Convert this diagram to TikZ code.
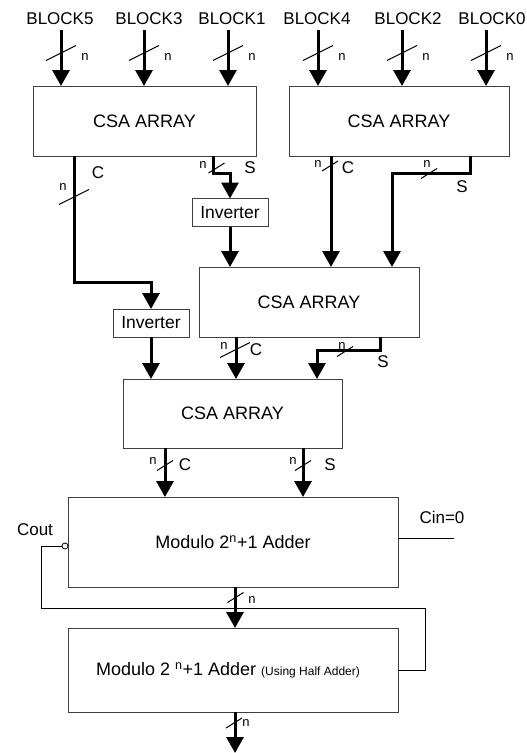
\documentclass[tikz,border=0pt]{standalone}
\usepackage{fontspec}
\setmainfont{Liberation Sans}
\usetikzlibrary{arrows.meta, positioning}

\begin{document}
\begin{tikzpicture}[
        % Styles
        x=1pt, y=-1pt, % pixel-like grid, y pointing down
        every node/.style = {font=\fontsize{17}{20}\selectfont, inner sep=0pt, outer sep=0pt},
        % CSA blocks
        block/.style = {
            rectangle,
            draw=black!75,
            line width=1pt,
            minimum width=220pt,
            minimum height=70pt,
            align=center,
            font=\fontsize{18}{21}\selectfont
        },
        % Inverter boxes
        invbox/.style = {
            rectangle,
            draw=black!75,
            line width=1pt,
            minimum width=76pt,
            minimum height=28pt,
            font=\fontsize{17.5}{20}\selectfont
        },
        % Modulo adders
        adder/.style = {block, minimum width=330pt},
        inlabel/.style = {outer sep=5pt},
        buslabel/.style = {font=\fontsize{13}{15}\selectfont},
        % Buses and thin wires
        bus/.style = {
            -{Triangle[width=17pt, length=16pt]},
            line width=3pt,
            draw=black
        },
        wire/.style = {line width=1pt, draw=black},
        bigmark/.pic = {\draw[wire] (-15,8) -- (15,-7);},
        busmark/.pic = {\draw[wire] (-8,5) -- (8,-5);}
    ]
        \useasboundingbox (0,0) rectangle (527,753);

        % 1. Blocks
        \node (csa1) [block, minimum width=223pt] at (144.5,121) {CSA ARRAY};
        \node (csa2) [block] at (399,121) {CSA ARRAY};
        \node (inv1) [invbox] at (230,212.5) {Inverter};
        \node (csa3) [block] at (309,302) {CSA ARRAY};
        \node (inv2) [invbox] at (151,323) {Inverter};
        \node (csa4) [block, minimum width=219pt, minimum height=69pt] at (232.5,413.5) {CSA ARRAY};
        \node (mod1) [adder, minimum height=90pt] at (233,542) {Modulo 2\textsuperscript{n}+1 Adder};
        \node (mod2) [adder, minimum height=84pt] at (233,670)
            {Modulo 2 \textsuperscript{n}+1 Adder {\fontsize{12}{14}\selectfont(Using Half Adder)}\hspace*{10pt}};

        % 2. Inputs
        \node (b5) [inlabel] at (60,19) {BLOCK5};
        \node (b3) [inlabel] at (149,19) {BLOCK3};
        \node (b1) [inlabel] at (232,19) {BLOCK1};
        \node (b4) [inlabel] at (317,19) {BLOCK4};
        \node (b2) [inlabel] at (408,19) {BLOCK2};
        \node (b0) [inlabel] at (492,19) {BLOCK0};
        \foreach \src/\ax/\dst in {b5/61/csa1, b3/144/csa1, b1/228/csa1,
                                   b4/318/csa2, b2/402/csa2, b0/486/csa2} {
            \draw [bus] (\src.south -| \ax,0) -- (\dst.north -| \ax,0);
            \pic at (\ax,52.5) {bigmark};
            \node [buslabel] at (\ax+24,57) {n};
        }

        % 3. First level outputs
        \draw [bus] (csa1.south -| 74,0) |- (151,282) -- (inv2.north);
        \pic at (74,196.5) {bigmark};
        \node [buslabel] at (63,187) {n};
        \node (c1) at (98,173) {C};

        \draw [bus] (csa1.south -| 213,0) |- (230,173) -- (inv1.north);
        \pic at (216.5,168) {busmark};
        \node [buslabel] at (203,165) {n};
        \node (s1) at (250,168) {S};

        \draw [bus] (csa2.south -| 331,0) -- (csa3.north -| 331,0);
        \pic at (330,166) {busmark};
        \node [buslabel] at (318,164) {n};
        \node (c2) at (348,168) {C};

        \draw [bus] (csa2.south -| 470,0) |- (392,173) -- (csa3.north -| 392,0);
        \pic at (429,173.5) {busmark};
        \node [buslabel] at (427,164) {n};
        \node (s2) at (462,187) {S};

        \draw [bus] (inv1.south) -- (inv1.south |- csa3.north);

        % 4. Second level outputs
        \draw [bus] (csa3.south -| 236,0) -- (csa4.north -| 236,0);
        \pic at (235,349.5) {bigmark};
        \node [buslabel] at (224,346) {n};
        \node (c3) at (256,350) {C};

        \draw [bus] (csa3.south -| 380,0) |- (317,350) -- (csa4.north -| 317,0);
        \pic at (345,351.5) {busmark};
        \node [buslabel] at (342,346) {n};
        \node (s3) at (383,362) {S};

        \draw [bus] (inv2.south) -- (inv2.south |- csa4.north);

        % 5. Last CSA to the adders
        \draw [bus] (csa4.south -| 165,0) -- (mod1.north -| 165,0);
        \pic at (165,465.5) {busmark};
        \node [buslabel] at (153,461) {n};
        \node (c4) at (185,465) {C};

        \draw [bus] (csa4.south -| 303,0) -- (mod1.north -| 303,0);
        \pic at (303,465.5) {busmark};
        \node [buslabel] at (293,461) {n};
        \node (s4) at (330,465) {S};

        % 6. Carry in / carry out
        \coordinate (cin) at (454,538);
        \draw [wire] (mod1.east |- 0,538) -- (cin);
        \node (cinlbl) at (442,517) {Cin=0};

        \node (bubble) [circle, draw=black, line width=0.8pt, minimum size=6pt] at (65,546) {};
        \node (cout) at (35,530) {Cout};
        \draw [wire] (bubble.west) -| (41,608) -| (425,670) -- (mod2.east |- 0,670);

        % 7. Adder outputs
        \draw [bus] (mod1.south -| 235,0) -- (mod2.north -| 235,0);
        \pic at (235.5,597.5) {busmark};
        \node [buslabel] at (252,600) {n};

        \coordinate (out) at (235,753);
        \draw [bus] (mod2.south -| 235,0) -- (out);
        \pic at (234,723) {busmark};
        \node [buslabel] at (246,723) {n};

    \end{tikzpicture}
\end{document}
